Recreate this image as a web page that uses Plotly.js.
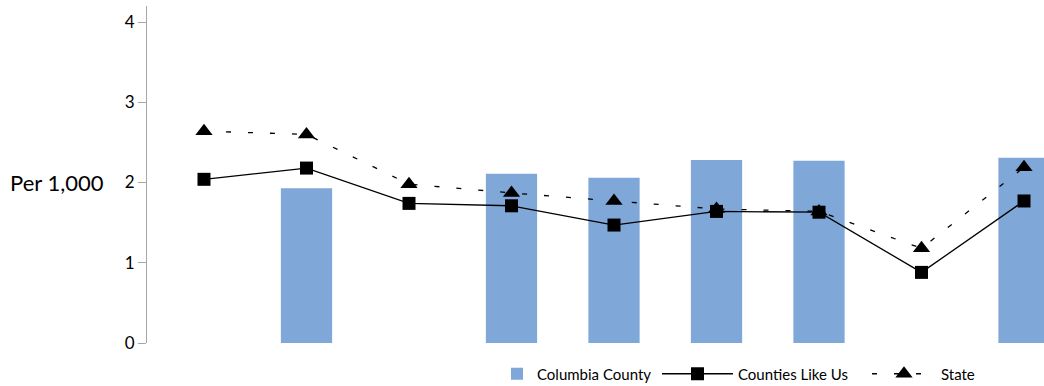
<!DOCTYPE html>
<html><head><meta charset="utf-8">
<script src="https://cdn.plot.ly/plotly-3.0.1.min.js"></script>
<style>html,body{margin:0;padding:0;background:#fff}#chart{width:1044px;height:386px}</style>
</head><body><div id="chart"></div>
<script>
var categories = ["c1","c2","c3","c4","c5","c6","c7","c8","c9"];
var columbiaCounty = [null, 1.93, null, 2.11, 2.06, 2.28, 2.27, null, 2.31];
var countiesLikeUs = [2.04, 2.18, 1.74, 1.71, 1.47, 1.64, 1.63, 0.88, 1.77];
var state = [2.64, 2.60, 1.98, 1.87, 1.77, 1.67, 1.64, 1.18, 2.19];
var yTicks = [0, 1, 2, 3, 4];

var FONT = "Lato, 'Open Sans', sans-serif";
var traces = [
  {type:'bar', name:'Columbia County', x:categories, y:columbiaCounty, width:0.5,
   marker:{color:'#7FA7D8'}, hoverinfo:'skip', legend:'legend'},
  {type:'scatter', mode:'lines+markers', name:'Counties Like Us', x:categories, y:countiesLikeUs,
   line:{color:'#000', width:1.3}, marker:{symbol:'square', size:13, color:'#000'}, legend:'legend2'},
  {type:'scatter', mode:'lines+markers', name:'State', x:categories, y:state,
   line:{color:'#000', width:1.3, dash:'5px,17px'}, marker:{symbol:'triangle-up', size:15, color:'#000'}, legend:'legend3'}
];
var legendFont = {family:FONT, size:15, color:'#000'};
var ly = 1-374/386;
var layout = {
  width:1044, height:386,
  margin:{l:147, r:0, t:6, b:43},
  paper_bgcolor:'#fff', plot_bgcolor:'#fff',
  font:{family:FONT, color:'#000', size:16},
  showlegend:true,
  legend:{orientation:'h', xref:'container', yref:'container', x:497/1044, xanchor:'left',
          y:ly, yanchor:'middle', font:legendFont, itemwidth:30, bgcolor:'rgba(0,0,0,0)'},
  legend2:{orientation:'h', xref:'container', yref:'container', x:657/1044, xanchor:'left',
          y:ly, yanchor:'middle', font:legendFont, itemwidth:71, bgcolor:'rgba(0,0,0,0)'},
  legend3:{orientation:'h', xref:'container', yref:'container', x:867/1044, xanchor:'left',
          y:ly, yanchor:'middle', font:legendFont, itemwidth:64, bgcolor:'rgba(0,0,0,0)'},
  xaxis:{type:'category', range:[-0.556, 8.195], showticklabels:false, showline:false,
         showgrid:false, zeroline:false, ticks:''},
  yaxis:{range:[0, 4.2], tickvals:yTicks, ticktext:yTicks.map(String), showgrid:false, zeroline:false,
         showline:true, linecolor:'#A6A6A6', linewidth:1, ticks:'outside', ticklen:8, tickcolor:'#A6A6A6',
         tickfont:{family:FONT, size:17, color:'#000'}},
  annotations:[{text:'Per 1,000', xref:'paper', yref:'y', x:-0.1, y:2, xanchor:'center', yanchor:'middle',
                showarrow:false, font:{family:FONT, size:22, color:'#000'}}]
};
Plotly.newPlot('chart', traces, layout, {displayModeBar:false, staticPlot:true});
</script></body></html>
